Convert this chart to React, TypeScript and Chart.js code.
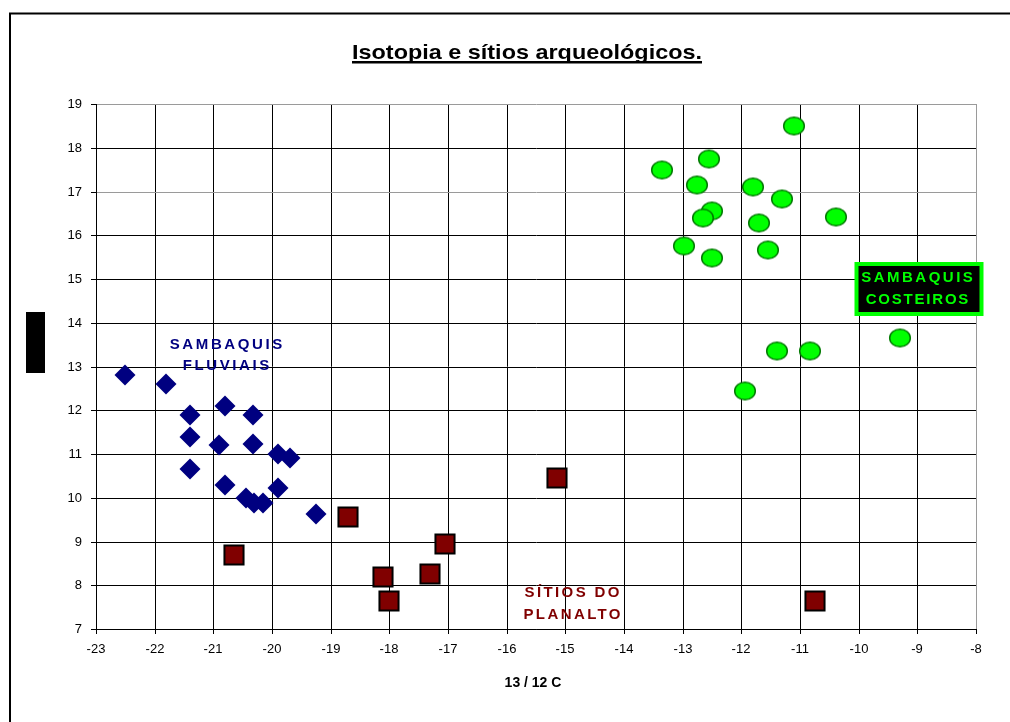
import React, { useEffect, useRef } from "react";
import { Chart, registerables } from "chart.js";

Chart.register(...registerables);

// ---- Data ----
const titleText = "Isotopia e sítios arqueológicos.";
const xAxisTitle = "13 / 12 C";

const xMin = -23;
const xMax = -8;
const yMin = 7;
const yMax = 19;

// Sambaquis fluviais (navy diamonds)
const fluviaisX = [-22.5, -21.8, -21.4, -21.4, -21.4, -20.8, -20.9, -20.8, -20.33, -20.33, -19.9, -19.7, -20.44, -20.3, -20.15, -19.9, -19.25];
const fluviaisY = [12.8, 12.6, 11.9, 11.4, 10.65, 12.1, 11.2, 10.3, 11.9, 11.23, 11.0, 10.9, 10.0, 9.89, 9.89, 10.23, 9.62];

// Sítios do planalto (dark red squares)
const planaltoX = [-20.65, -18.7, -18.1, -18.0, -17.3, -17.05, -15.15, -10.75];
const planaltoY = [8.7, 9.55, 8.2, 7.65, 8.25, 8.95, 10.45, 7.65];

// Sambaquis costeiros (green circles)
const costeirosX = [-11.1, -12.55, -13.35, -12.75, -11.8, -11.3, -12.5, -12.65, -11.7, -10.38, -12.97, -12.5, -11.55, -9.3, -11.4, -10.83, -11.93];
const costeirosY = [18.5, 17.75, 17.5, 17.15, 17.1, 16.83, 16.55, 16.4, 16.27, 16.42, 15.76, 15.47, 15.67, 13.65, 13.35, 13.35, 12.43];

// Group labels (anchored in data units)
const fluviaisLabel = ["SAMBAQUIS", "FLUVIAIS"];
const fluviaisLabelX = -20.78;
const fluviaisLabelY = [13.49, 13.01];

const planaltoLabel = ["SÍTIOS DO", "PLANALTO"];
const planaltoLabelX = -14.89;
const planaltoLabelY = [7.83, 7.32];

const costeirosLabel = ["SAMBAQUIS", "COSTEIROS"];
const costeirosLabelX = -8.98;
const costeirosLabelY = 14.77;

const FONT = '"Liberation Sans", Arial, sans-serif';

function toPoints(xs: number[], ys: number[]) {
  return xs.map((x, i) => ({ x, y: ys[i] }));
}

function makeEllipse(): HTMLCanvasElement {
  const c = document.createElement("canvas");
  c.width = 24;
  c.height = 21;
  const g = c.getContext("2d")!;
  g.beginPath();
  g.ellipse(12, 10.5, 10.3, 8.8, 0, 0, Math.PI * 2);
  g.fillStyle = "#00FF00";
  g.fill();
  g.lineWidth = 1.5;
  g.strokeStyle = "#007A00";
  g.stroke();
  return c;
}

function spaced(ctx: CanvasRenderingContext2D, text: string, cx: number, cy: number, ls: number) {
  (ctx as any).letterSpacing = ls + "px";
  const w = ctx.measureText(text).width;
  ctx.textAlign = "left";
  ctx.fillText(text, cx - (w - ls) / 2, cy);
  (ctx as any).letterSpacing = "0px";
}

const decorPlugin = {
  id: "decor",
  afterDraw(chart: any) {
    const ctx: CanvasRenderingContext2D = chart.ctx;
    const xs = chart.scales.x;
    const ys = chart.scales.y;
    ctx.save();

    // outer frame (left and top edges visible)
    ctx.strokeStyle = "#000";
    ctx.lineWidth = 2;
    ctx.beginPath();
    ctx.moveTo(10, 730);
    ctx.lineTo(10, 13.5);
    ctx.lineTo(1020, 13.5);
    ctx.stroke();

    // title
    ctx.fillStyle = "#000";
    ctx.font = `bold 21px ${FONT}`;
    ctx.textBaseline = "alphabetic";
    const tw = ctx.measureText(titleText).width;
    const sx = 350 / tw;
    ctx.save();
    ctx.translate(527, 59);
    ctx.scale(sx, 1);
    ctx.textAlign = "center";
    ctx.fillText(titleText, 0, 0);
    ctx.restore();
    ctx.fillRect(352, 61, 350, 2.5);

    // x axis title
    ctx.font = `bold 14px ${FONT}`;
    ctx.textAlign = "center";
    ctx.fillText(xAxisTitle, 533, 687);

    // y axis title placeholder (black block)
    ctx.fillRect(26, 312, 19, 61);

    // group labels
    ctx.font = `bold 15px ${FONT}`;
    ctx.textBaseline = "middle";
    ctx.fillStyle = "#000080";
    fluviaisLabel.forEach((t, i) => {
      spaced(ctx, t, xs.getPixelForValue(fluviaisLabelX), ys.getPixelForValue(fluviaisLabelY[i]), 2.6);
    });
    ctx.fillStyle = "#800000";
    planaltoLabel.forEach((t, i) => {
      spaced(ctx, t, xs.getPixelForValue(planaltoLabelX), ys.getPixelForValue(planaltoLabelY[i]), 2.4);
    });

    // costeiros box
    const bx = xs.getPixelForValue(costeirosLabelX);
    const by = ys.getPixelForValue(costeirosLabelY);
    ctx.fillStyle = "#00FF00";
    ctx.fillRect(bx - 64.5, by - 27, 129, 54);
    ctx.fillStyle = "#000";
    ctx.fillRect(bx - 60.5, by - 23, 121, 46);
    ctx.fillStyle = "#00FF00";
    ctx.font = `bold 15px ${FONT}`;
    spaced(ctx, costeirosLabel[0], bx - 2, by - 11, 2.5);
    spaced(ctx, costeirosLabel[1], bx - 2, by + 11, 1.8);

    ctx.restore();
  },
};

export default function App() {
  const ref = useRef<HTMLCanvasElement | null>(null);

  useEffect(() => {
    document.body.style.margin = "0";
    document.body.style.overflow = "hidden";
    const canvas = ref.current!;
    const ellipse = makeEllipse();
    const chart = new Chart(canvas, {
      type: "scatter",
      data: {
        datasets: [
          {
            label: "Sambaquis fluviais",
            data: toPoints(fluviaisX, fluviaisY),
            pointStyle: "rectRot",
            pointRadius: 10.5,
            backgroundColor: "#000080",
            borderColor: "#000080",
            borderWidth: 0,
          },
          {
            label: "Sítios do planalto",
            data: toPoints(planaltoX, planaltoY),
            pointStyle: "rect",
            pointRadius: 13.5,
            backgroundColor: "#800000",
            borderColor: "#000",
            borderWidth: 2,
          },
          {
            label: "Sambaquis costeiros",
            data: toPoints(costeirosX, costeirosY),
            pointStyle: ellipse as any,
            pointRadius: 10,
            backgroundColor: "#00FF00",
            borderColor: "#007A00",
            borderWidth: 1.5,
          },
        ],
      },
      options: {
        responsive: false,
        animation: false,
        events: [],
        layout: { padding: { top: 104, right: 34, left: 0, bottom: 0 } },
        plugins: {
          legend: { display: false },
          tooltip: { enabled: false },
          title: { display: false },
        },
        scales: {
          x: {
            type: "linear",
            position: "bottom",
            min: xMin,
            max: xMax,
            alignToPixels: true,
            ticks: {
              stepSize: 1,
              color: "#000",
              font: { family: FONT, size: 13 },
              padding: 8,
              maxRotation: 0,
              autoSkip: false,
            },
            grid: {
              color: (c: any) => (c.tick && c.tick.value === xMax ? "#9a9a9a" : "#000"),
              tickColor: "#000",
              tickLength: 5,
              lineWidth: 1,
            },
            border: { color: "#000", width: 1 },
            afterFit: (s: any) => {
              s.height = 93;
            },
          },
          y: {
            type: "linear",
            min: yMin,
            max: yMax,
            alignToPixels: true,
            ticks: {
              stepSize: 1,
              color: "#000",
              font: { family: FONT, size: 13 },
              padding: 9,
            },
            grid: {
              color: (c: any) => (c.tick && (c.tick.value === yMax || c.tick.value === 17) ? "#9a9a9a" : "#000"),
              tickColor: "#000",
              tickLength: 5,
              lineWidth: 1,
            },
            border: { color: "#000", width: 1 },
            afterFit: (s: any) => {
              s.width = 96;
            },
          },
        },
      },
      plugins: [decorPlugin],
    } as any);
    return () => chart.destroy();
  }, []);

  return (
    <div style={{ position: "absolute", left: 0, top: 0, width: 1010, height: 722, background: "#fff" }}>
      <canvas ref={ref} width={1010} height={722} style={{ display: "block" }} />
    </div>
  );
}
